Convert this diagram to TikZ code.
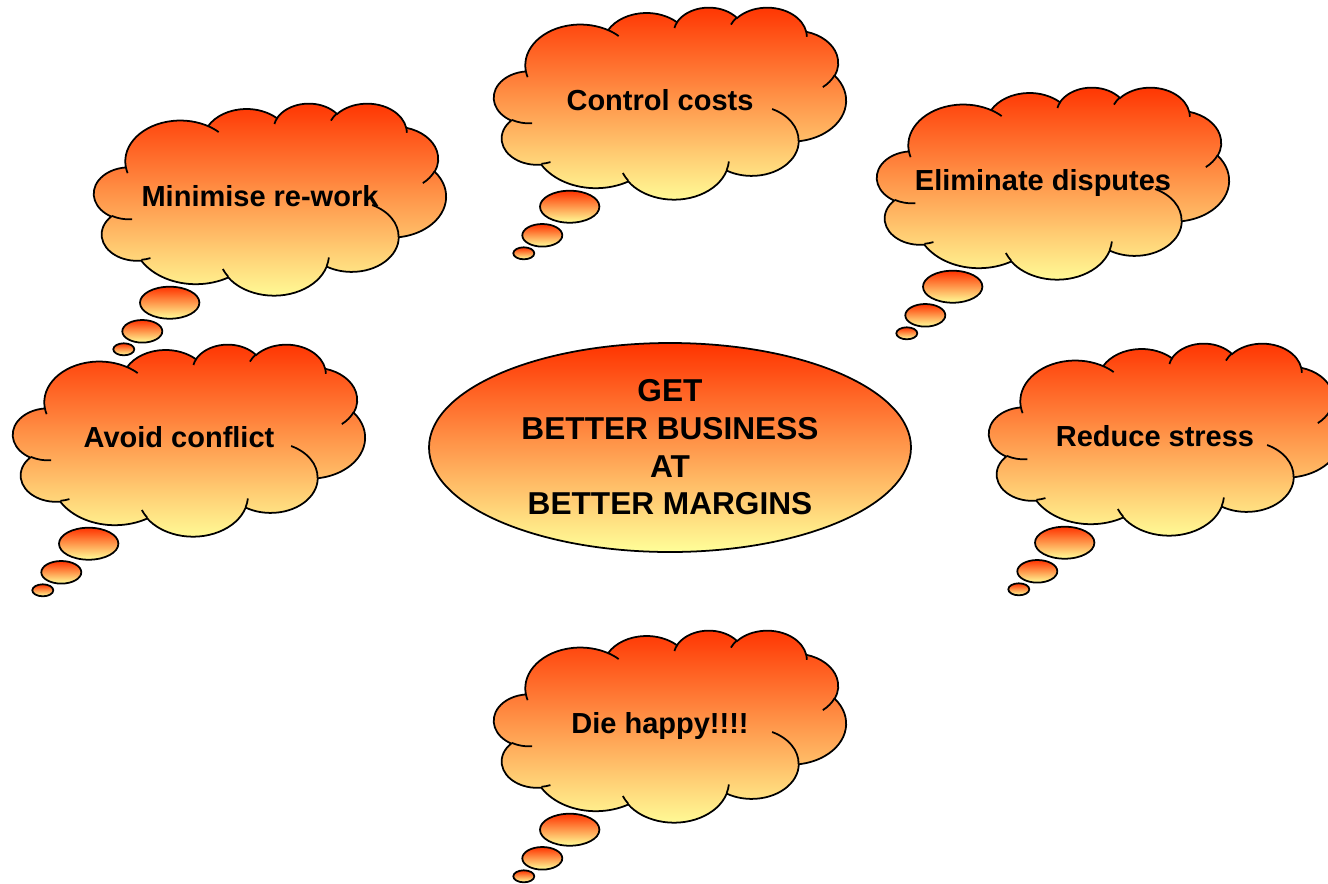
\documentclass[tikz,border=0pt]{standalone}
\usepackage{fontspec}
\setmainfont{Liberation Sans}
\usetikzlibrary{shapes.geometric}

\definecolor{flame}{RGB}{255,51,0}
\definecolor{cream}{RGB}{255,255,153}

\tikzset{
  declare function={pang(\u,\v,\w)=atan2(\u*sin(\w),\v*cos(\w));},
  fire/.style={top color=flame, bottom color=cream, draw=black, line width=1pt},
  crease/.style={draw=black, line width=1pt},
  idea/.style={font=\fontsize{16.5}{20}\selectfont\bfseries, anchor=base, inner sep=0pt},
  pics/thought/.style={code={
    % cloud, on a 43.2 x 43.2 grid
    \begin{scope}[xscale=0.162963, yscale=0.088889]
      \draw[fire] (3.9,-14.37)
        \foreach \rx/\ry/\st/\sw [evaluate=\st as \ps using {-pang(\rx,\ry,\st)},
            evaluate=\sw as \pe using {-pang(\rx,\ry,\st)-mod(pang(\rx,\ry,\st+\sw)-pang(\rx,\ry,\st)+720,360)}]
          in {6.753/9.190/-190.4875/123.7805, 5.333/7.267/-144.1024/89.9452,
              4.365/5.945/-145.8079/99.7230, 4.857/6.595/-130.9861/117.2417,
              5.333/7.273/-78.7089/109.0269, 6.775/9.220/-46.2673/130.2690,
              5.785/7.867/0.6250/114.0333, 6.752/9.215/22.4516/115.1726,
              7.720/10.543/66.2426/75.7110, 4.360/5.918/-274.9421/146.7356,
              4.345/5.945/-246.8285/152.5189}
          {arc[x radius=\rx, y radius=\ry, start angle=\ps, end angle=\pe]} -- cycle;
      \foreach \cx/\cy/\rx/\ry/\st/\sw [evaluate=\st as \ps using {-pang(\rx,\ry,\st)},
          evaluate=\sw as \pe using {-pang(\rx,\ry,\st)-mod(pang(\rx,\ry,\st+\sw)-pang(\rx,\ry,\st)+720,360)}]
        in {4.693/26.177/4.345/5.945/86.7420/26.4295,
            6.928/34.899/4.360/5.918/73.6105/11.4475,
            16.478/39.090/6.752/9.215/137.6242/14.0811,
            28.827/34.751/6.752/9.215/6.4533/15.9984,
            34.129/22.954/5.785/7.867/-70.2924/70.9174,
            41.798/15.354/5.333/7.273/30.3180/27.7515,
            38.324/5.426/4.857/6.595/-13.7443/14.8589,
            29.078/3.952/4.857/6.595/-149.1815/18.1954,
            22.141/4.720/4.365/5.945/-163.4943/17.6864,
            14.000/5.192/6.753/9.190/-66.7070/12.3194,
            4.127/15.789/6.753/9.190/157.6544/11.8582}
        \draw[crease] (\cx,-\cy) arc[x radius=\rx, y radius=\ry, start angle=\ps, end angle=\pe];
    \end{scope}
    % bubbles
    \draw[fire] (1.514,-3.994) ellipse [x radius=0.594, y radius=0.32];
    \draw[fire] (0.966,-4.566) ellipse [x radius=0.40, y radius=0.226];
    \draw[fire] (0.596,-4.926) ellipse [x radius=0.21, y radius=0.12];
    \node[idea] (-text) at (3.32,-2.06) {#1};
  }}
}

\begin{document}
\begin{tikzpicture}
  \useasboundingbox (0,0) rectangle (26.56,-17.66);
  \pic (rework) at (1.88,-2.06) {thought={Minimise re-work}};
  \pic (costs) at (9.88,-0.14) {thought={Control costs}};
  \pic (disputes) at (17.54,-1.74) {thought={Eliminate disputes}};
  \pic (conflict) at (0.26,-6.88) {thought={Avoid conflict}};
  \pic (stress) at (19.78,-6.86) {thought={Reduce stress}};
  \pic (happy) at (9.88,-12.60) {thought={Die happy!!!!}};
  \node[ellipse, fire, minimum width=9.64cm, minimum height=4.18cm, inner sep=0pt,
        align=center, font=\fontsize{18}{21.45}\selectfont\bfseries]
        (goal) at (13.40,-8.95) {GET\\BETTER BUSINESS\\AT\\BETTER MARGINS};
\end{tikzpicture}
\end{document}
